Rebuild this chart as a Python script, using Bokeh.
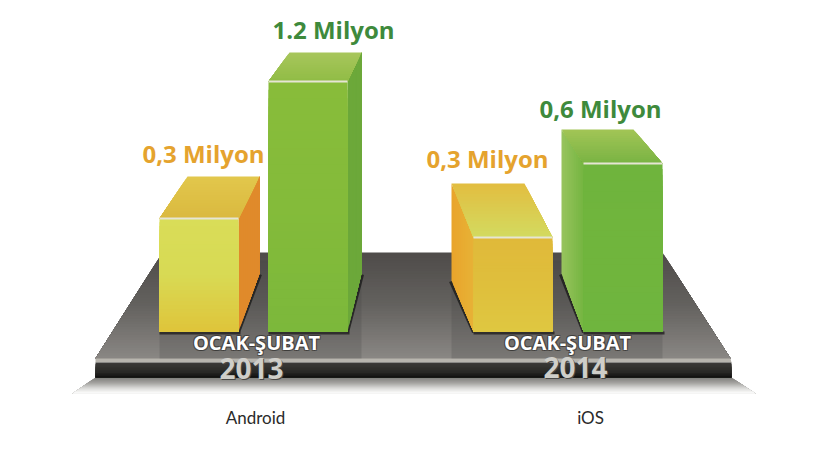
from bokeh.plotting import figure
from bokeh.models import Range1d
from bokeh.core.properties import value
from bokeh.embed import file_html
from bokeh.resources import INLINE

# ---- chart data ----
categories = ["Android", "iOS"]
periods = ["OCAK-ŞUBAT", "OCAK-ŞUBAT"]
years = ["2013", "2014"]
value_labels = ["0,3 Milyon", "1.2 Milyon", "0,3 Milyon", "0,6 Milyon"]
# Drawn height of each bar's front face; the picture's bars are not proportional to their labels
bar_heights = [113, 250, 94, 168]

# ---- layout of the pictorial 3D ----
BASE = 331
front_x0 = [159, 268, 473, 583]
bar_w = 79
back_x0 = [187, 289, 451, 561]
back_x1 = [259, 361, 524, 633]
rise = [42, 29, 54, 34]
back_floor = [58, 58, 51, 58]

styles = [
    dict(front=("#d9dd58", "#d8da54", "#dfc43a"), top=("#e2c74c", "#dab93f"), side=("#e08a2b", "#e08a2b")),
    dict(front=("#88bc3a", "#84bb3a", "#7cb83b"), top=("#a8c65c", "#90bc45"), side=("#6ca83a", "#6ca83a")),
    dict(front=("#e0b93a", "#dfbf3c", "#dfc741"), top=("#e3bd40", "#d2db60"), side=("#e9a42c", "#e7b236")),
    dict(front=("#6fb43d", "#70b53d", "#6fb53e"), top=("#a2c556", "#79b343"), side=("#99c45e", "#74b541")),
]
label_x = [203, 333, 487, 600]
label_y = [153, 29, 158, 108]
cat_x = [255, 590]
cat_y = 417
period_x = [256, 567]
period_y = [342, 342]
year_x = [251, 575]
year_y = [368, 367]


def py(v):
    return BASE - v


def hex2rgb(c):
    return tuple(int(c[i:i + 2], 16) for i in (1, 3, 5))


def ramp(stops, t):
    n = len(stops) - 1
    i = min(int(t * n), n - 1)
    f = t * n - i
    a, b = hex2rgb(stops[i]), hex2rgb(stops[i + 1])
    return "#%02x%02x%02x" % tuple(round(a[k] + (b[k] - a[k]) * f) for k in range(3))


def clip(poly, axis, lo, hi):
    def half(pts, keep, cross):
        out = []
        for i, cur in enumerate(pts):
            prev = pts[i - 1]
            if keep(prev) != keep(cur):
                t = (cross - prev[axis]) / (cur[axis] - prev[axis])
                out.append((prev[0] + t * (cur[0] - prev[0]), prev[1] + t * (cur[1] - prev[1])))
            if keep(cur):
                out.append(cur)
        return out
    res = half(poly, lambda q: q[axis] >= lo, lo)
    if res:
        res = half(res, lambda q: q[axis] <= hi, hi)
    return res


def shade(fig, poly, stops, axis=1, bands=24, start=None, end=None):
    """Gradient polygon as overlapping strips; stops run from start to end along the axis.
    Default direction on y: from the top of the picture down."""
    vals = [q[axis] for q in poly]
    if start is None:
        start = max(vals) if axis == 1 else min(vals)
    if end is None:
        end = min(vals) if axis == 1 else max(vals)
    xs, ys, cols = [], [], []
    step = (end - start) / bands
    for k in range(bands):
        u = start + step * k
        part = clip(poly, axis, min(u, end), max(u, end))
        if len(part) >= 3:
            xs.append([q[0] for q in part])
            ys.append([q[1] for q in part])
            cols.append(ramp(stops, (k + .5) / bands))
    fig.patches(xs, ys, fill_color=cols, line_color=None)


p = figure(width=804, height=444, output_backend="svg", toolbar_location=None,
           x_range=Range1d(0, 804), y_range=Range1d(py(444), py(0)),
           min_border=0, outline_line_color=None, background_fill_color="white",
           border_fill_color="white")
p.axis.visible = False
p.grid.visible = False

# floor shadow, platform top, lip, front
shade(p, [(95, py(377)), (731, py(377)), (755, py(393)), (72, py(393))],
      ["#7d7c79", "#a3a29f", "#dadad8", "#ffffff"], bands=16)
shade(p, [(162, py(252)), (662, py(252)), (730, py(358)), (95, py(358))],
      ["#4e4b49", "#64625f", "#8a8784"], bands=40)
p.patch([95, 730, 731, 95], [py(358), py(358), py(362), py(362)],
        fill_color="#b8b5ae", line_color=None)
shade(p, [(95, py(362)), (731, py(362)), (731, py(377)), (95, py(377))],
      ["#3c3a38", "#33322f", "#272624", "#0f0f0e"], bands=10)

# floor reflection under each bar pair
for x0, x1 in [(159, 361), (451, 662)]:
    p.patch([x0, x1, x1, x0], [py(260), py(260), py(358), py(358)],
            fill_color="#3a3a3c", fill_alpha=0.2, line_color=None)

# bars
for i, h in enumerate(bar_heights):
    x0, x1 = front_x0[i], front_x0[i] + bar_w
    bx0, bx1 = back_x0[i], back_x1[i]
    s = styles[i]
    top_y = h
    back_y = h + rise[i]
    floor = back_floor[i]
    if bx1 > x1:
        side = [(x1, 0), (bx1, floor), (bx1, back_y), (x1, top_y)]
        shadow_x = [x1, bx1 + 1]
        s_start, s_end = x1, bx1
    else:
        side = [(x0, 0), (bx0, floor), (bx0, back_y), (x0, top_y)]
        shadow_x = [x0, bx0 - 1]
        s_start, s_end = bx0, x0
    # contact shadows
    p.line(shadow_x, [-1, floor - 1], line_color="#1f1e1d", line_width=3, line_alpha=0.85)
    p.line([x0, x1 + 2], [-1.5, -1.5], line_color="#262523", line_width=3, line_alpha=0.85)
    shade(p, side, s["side"], axis=0, bands=12, start=s_start, end=s_end)
    shade(p, [(x0, 0), (x1, 0), (x1, top_y), (x0, top_y)], s["front"], bands=30)
    shade(p, [(x0, top_y), (x1, top_y), (bx1, back_y), (bx0, back_y)], s["top"], bands=16)
    p.line([x0, x1], [top_y, top_y], line_color="#e6e5d4", line_width=2)

# value labels
label_colors = ["#e5a32e", "#3e8a3c", "#e5a32e", "#3e8a3c"]
p.text(label_x, [py(v) for v in label_y], text=value_labels, text_color=label_colors,
       text_font=value("Open Sans"), text_font_style="bold", text_font_size="24px",
       text_align="center", text_baseline="middle")

# platform captions: a soft dark halo under the white text
for dx, dy in [(-1, 1), (1, 1), (-1, -1), (1, -1)]:
    p.text([x + dx for x in period_x], [py(v) + dy for v in period_y], text=periods, text_color="#2e2d2c",
           text_alpha=0.55, text_font=value("Open Sans"), text_font_style="bold", text_font_size="20px",
           text_align="center", text_baseline="middle")
p.text(period_x, [py(v) for v in period_y], text=periods, text_color="#ffffff",
       text_font=value("Open Sans"), text_font_style="bold", text_font_size="20px",
       text_align="center", text_baseline="middle")
p.text([x + 1 for x in year_x], [py(v) - 1 for v in year_y], text=years, text_color="#4a4947",
       text_font=value("Open Sans"), text_font_style="bold", text_font_size="28px",
       text_align="center", text_baseline="middle")
p.text(year_x, [py(v) for v in year_y], text=years, text_color="#cfcec9",
       text_font=value("Open Sans"), text_font_style="bold", text_font_size="28px",
       text_align="center", text_baseline="middle")

# categories
p.text(cat_x, [py(cat_y)] * 2, text=categories, text_color="#2a2a2a",
       text_font=value("Lato"), text_font_size="17px",
       text_align="center", text_baseline="middle")

open("out.html", "w").write(file_html(p, INLINE))
